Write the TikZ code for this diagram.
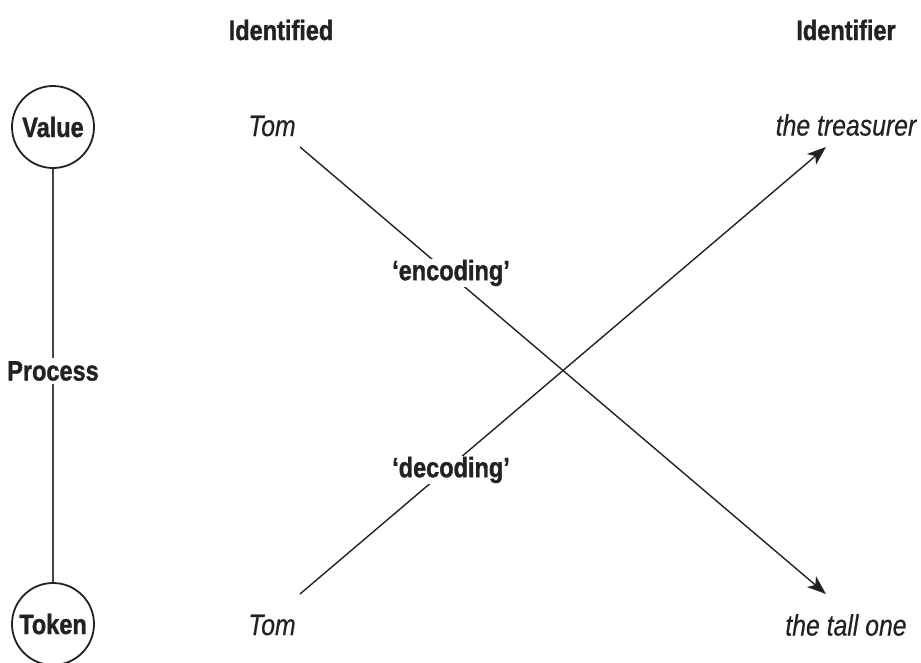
\documentclass[tikz,border=0pt]{standalone}
\usepackage{fontspec}
\setmainfont{Liberation Sans}[FakeStretch=0.84, BoldFeatures={FakeBold=1.2}, ItalicFeatures={FakeBold=0.4}]
\usetikzlibrary{arrows.meta}
\definecolor{ink}{HTML}{222222}
\tikzset{
  head/.style={font=\bfseries\fontsize{28}{32}\selectfont, text=ink},
  lab/.style={font=\bfseries\fontsize{28}{32}\selectfont, text=ink},
  word/.style={font=\itshape\fontsize{29.5}{33}\selectfont, text=ink},
  ring/.style={draw=ink, circle, line width=1.8pt, minimum size=82pt, inner sep=0pt, font=\bfseries\fontsize{28}{32}\selectfont, text=ink},
  link/.style={draw=ink!85, line width=1.2pt},
  arr/.style={draw=ink, line width=1.4pt, -{Stealth[length=19pt,width=14pt,inset=5pt]}}
}
\begin{document}
\begin{tikzpicture}[x=1pt,y=-1pt]
\useasboundingbox (0,0) rectangle (921,662);
\node[head] (h1) at (281,30) {Identified};
\node[head] (h2) at (846,30) {Identifier};
\node[ring] (val) at (53,127) {Value};
\node[ring] (tok) at (53,624) {Token};
\node[lab] (proc) at (53,371) {Process};
\draw[link] (val) -- (proc);
\draw[link] (proc) -- (tok);
\node[word] (tom1) at (272,126) {Tom};
\node[word] (tom2) at (272,625) {Tom};
\node[word] (tr) at (846,125) {the treasurer};
\node[word] (ta) at (846,625) {the tall one};
\coordinate (s1) at (300,147);
\coordinate (e1) at (826,594);
\coordinate (s2) at (300,594);
\coordinate (e2) at (826,147);
\draw[arr] (s1) -- (e1);
\draw[arr] (s2) -- (e2);
\node[lab, fill=white, inner sep=1pt] (enc) at (451,273) {`encoding'};
\node[lab, fill=white, inner sep=1pt] (dec) at (451,470) {`decoding'};
\end{tikzpicture}
\end{document}
